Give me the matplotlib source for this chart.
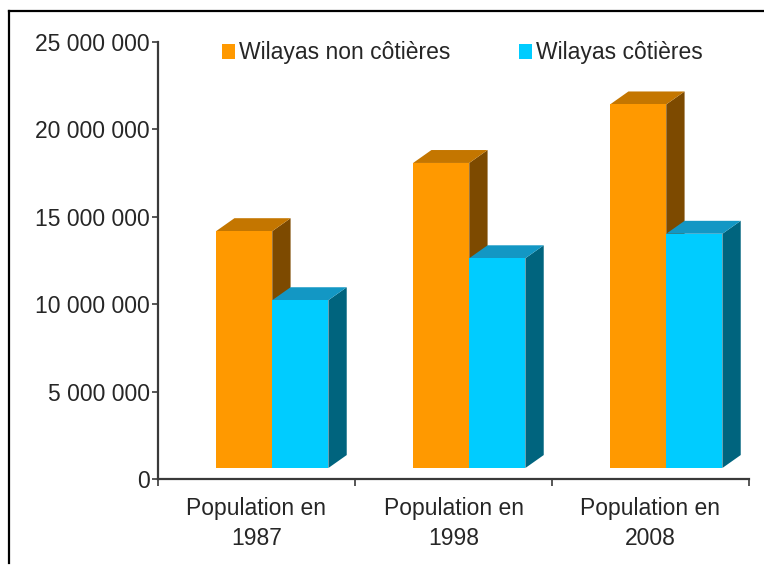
import matplotlib.pyplot as plt
from matplotlib.patches import Patch, Rectangle, Polygon
from matplotlib.lines import Line2D

categories = ["Population en\n1987", "Population en\n1998", "Population en\n2008"]
non_cotieres = [13550000, 17450000, 20800000]
cotieres = [9600000, 12000000, 13400000]
series_names = ["Wilayas non côtières", "Wilayas côtières"]
y_ticks = [0, 5000000, 10000000, 15000000, 20000000, 25000000]
y_tick_labels = ["0", "5 000 000", "10 000 000", "15 000 000", "20 000 000", "25 000 000"]

# front / top / side colours for the fake 3D look
ORANGE = ("#FF9900", "#C47600", "#7D4A00")
CYAN = ("#00CCFF", "#1397C4", "#00647E")

BW = 0.285      # bar width (category units)
DX = 0.093      # depth offset x
DY = 740000     # depth offset y
FLOOR = 630000  # front faces sit a bit above the axis line

plt.rcParams['font.family'] = ['Liberation Sans', 'DejaVu Sans']
TXT = "#262626"
FS = 16.5

fig = plt.figure(figsize=(7.64, 5.66), dpi=100)
ax = fig.add_axes([158 / 764, 87 / 566, 591 / 764, 437 / 566])


def bar3d(x0, val, cols):
    x1 = x0 + BW
    b = FLOOR
    t = FLOOR + val
    side = Polygon([(x1, b), (x1 + DX, b + DY), (x1 + DX, t + DY), (x1, t)],
                   closed=True, facecolor=cols[2], edgecolor="none", clip_on=False)
    top = Polygon([(x0, t), (x0 + DX, t + DY), (x1 + DX, t + DY), (x1, t)],
                  closed=True, facecolor=cols[1], edgecolor="none", clip_on=False)
    front = Rectangle((x0, b), BW, val, facecolor=cols[0], edgecolor="none", clip_on=False)
    ax.add_patch(side)
    ax.add_patch(top)
    ax.add_patch(front)


for i in range(len(categories)):
    bar3d(i + 0.295, non_cotieres[i], ORANGE)
    bar3d(i + 0.295 + BW, cotieres[i], CYAN)

ax.set_xlim(0, 3)
ax.set_ylim(0, 25000000)

for s in ["top", "right"]:
    ax.spines[s].set_visible(False)
for s in ["left", "bottom"]:
    ax.spines[s].set_color("#3a3a3a")
    ax.spines[s].set_linewidth(1.6)

ax.set_yticks(y_ticks)
ax.set_yticklabels(y_tick_labels)
ax.tick_params(axis="y", direction="out", length=4, width=1.2, color="#3a3a3a",
               labelsize=FS, labelcolor=TXT, pad=2)

ax.set_xticks([0, 1, 2, 3])
ax.set_xticklabels([])
ax.tick_params(axis="x", which="major", direction="out", length=5, width=1.2, color="#3a3a3a")
ax.set_xticks([0.5, 1.5, 2.5], minor=True)
ax.set_xticklabels(categories, minor=True, linespacing=1.4)
ax.tick_params(axis="x", which="minor", length=0, labelsize=FS, labelcolor=TXT, pad=13)

handles = [Patch(facecolor=ORANGE[0]), Patch(facecolor=CYAN[0])]
fig.legend(handles, series_names, loc="center left", bbox_to_anchor=(222 / 764, 1 - 53 / 566),
           ncol=2, frameon=False, fontsize=FS, labelcolor=TXT, borderpad=0, borderaxespad=0,
           handlelength=0.55, handleheight=0.6, handletextpad=0.2, columnspacing=3.0)

# outer frame (top and left edges only visible)
fig.add_artist(Line2D([9 / 764, 1], [1 - 10.5 / 566] * 2, color="black", lw=1.6,
                      transform=fig.transFigure))
fig.add_artist(Line2D([9 / 764] * 2, [1 - 563 / 566, 1 - 10.5 / 566], color="black", lw=1.6,
                      transform=fig.transFigure))

plt.savefig("out.png", dpi=100)
